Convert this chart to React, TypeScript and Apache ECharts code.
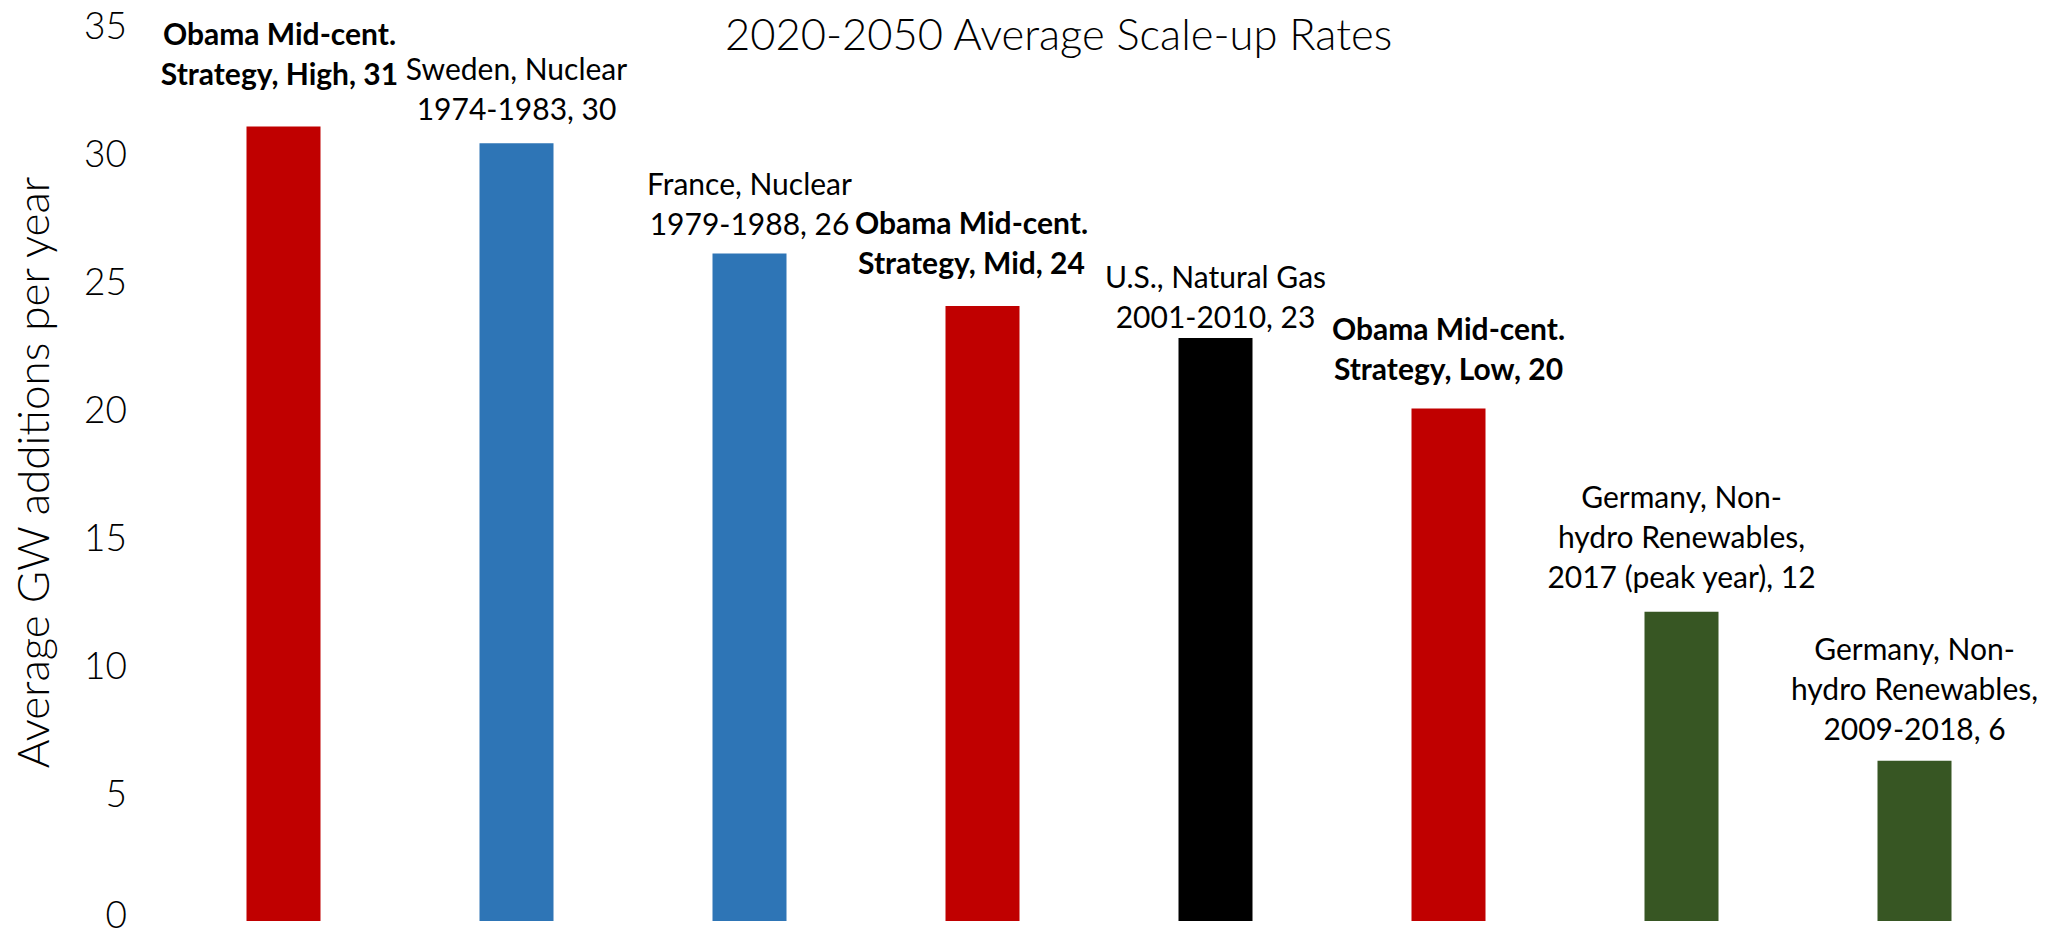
import React, { useEffect, useRef } from "react";
import * as echarts from "echarts";

const chartTitle = "2020-2050 Average Scale-up Rates";
const yAxisName = "Average GW additions per year";

const categories = [
  "Obama Mid-cent.\nStrategy, High",
  "Sweden, Nuclear\n1974-1983",
  "France, Nuclear\n1979-1988",
  "Obama Mid-cent.\nStrategy, Mid",
  "U.S., Natural Gas\n2001-2010",
  "Obama Mid-cent.\nStrategy, Low",
  "Germany, Non-\nhydro Renewables,\n2017 (peak year)",
  "Germany, Non-\nhydro Renewables,\n2009-2018",
];
const values = [31.0, 30.35, 26.05, 24.0, 22.75, 20.0, 12.07, 6.25];
const barColors = [
  "#C00000",
  "#2E75B6",
  "#2E75B6",
  "#C00000",
  "#000000",
  "#C00000",
  "#375623",
  "#375623",
];
const boldLabel = [true, false, false, true, false, true, false, false];

// label placement (style): gap from last line centre to bar top, horizontal shift
const labelLift = [54, 35, 30, 44, 22, 40, 36, 33];
const labelShift = [-4, 0, 0, -11, 0, 0, 0, 0];

const yMin = 0;
const yMax = 35;
const yStep = 5;

const LINE_H = 40;

const tickFont = {
  fontFamily: "Lato",
  fontWeight: 300,
  fontSize: 37,
  color: "#000000",
};

export default function App() {
  const ref = useRef<HTMLDivElement>(null);
  useEffect(() => {
    if (!ref.current) return;
    const chart = echarts.init(ref.current, undefined, { renderer: "svg" });
    chart.setOption({
      animation: false,
      backgroundColor: "#ffffff",
      title: {
        text: chartTitle,
        left: 720,
        top: 6,
        textAlign: "left",
        textStyle: {
          fontFamily: "Lato",
          fontWeight: 300,
          fontSize: 43.5,
          color: "#000000",
        },
      },
      grid: {
        left: 167,
        right: 22,
        top: 24,
        bottom: 14,
        containLabel: false,
        outerBoundsMode: "none",
      },
      xAxis: {
        type: "category",
        data: categories,
        axisLine: { show: false },
        axisTick: { show: false },
        axisLabel: { show: false },
        splitLine: { show: false },
      },
      yAxis: {
        type: "value",
        min: yMin,
        max: yMax,
        interval: yStep,
        name: yAxisName,
        nameLocation: "middle",
        nameGap: 113,
        nameTextStyle: {
          fontFamily: "Lato",
          fontWeight: 300,
          fontSize: 44,
          color: "#000000",
        },
        axisLine: { show: false },
        axisTick: { show: false },
        splitLine: { show: false },
        axisLabel: {
          margin: 40,
          ...tickFont,
          lineHeight: 28,
          formatter: (v: number) => (v === 0 ? "{z|0}" : String(v)),
          rich: {
            z: { ...tickFont, lineHeight: 28, padding: [0, 0, 16, 0] },
          },
        },
      },
      series: [
        {
          type: "bar",
          barWidth: 74,
          data: values.map((v, i) => ({
            value: v,
            itemStyle: { color: barColors[i] },
            label: {
              fontWeight: boldLabel[i] ? "bold" : "normal",
              offset: [labelShift[i], -(labelLift[i] - LINE_H / 2)],
            },
          })),
          label: {
            show: true,
            position: "top",
            distance: 0,
            fontFamily: "Lato",
            fontSize: 30,
            lineHeight: LINE_H,
            color: "#000000",
            align: "center",
            formatter: (p: any) =>
              categories[p.dataIndex] + ", " + Math.round(values[p.dataIndex]),
          },
        },
      ],
    });
    return () => chart.dispose();
  }, []);
  return (
    <div
      ref={ref}
      style={{ position: "fixed", left: 0, top: 0, width: "2053px", height: "935px" }}
    />
  );
}
